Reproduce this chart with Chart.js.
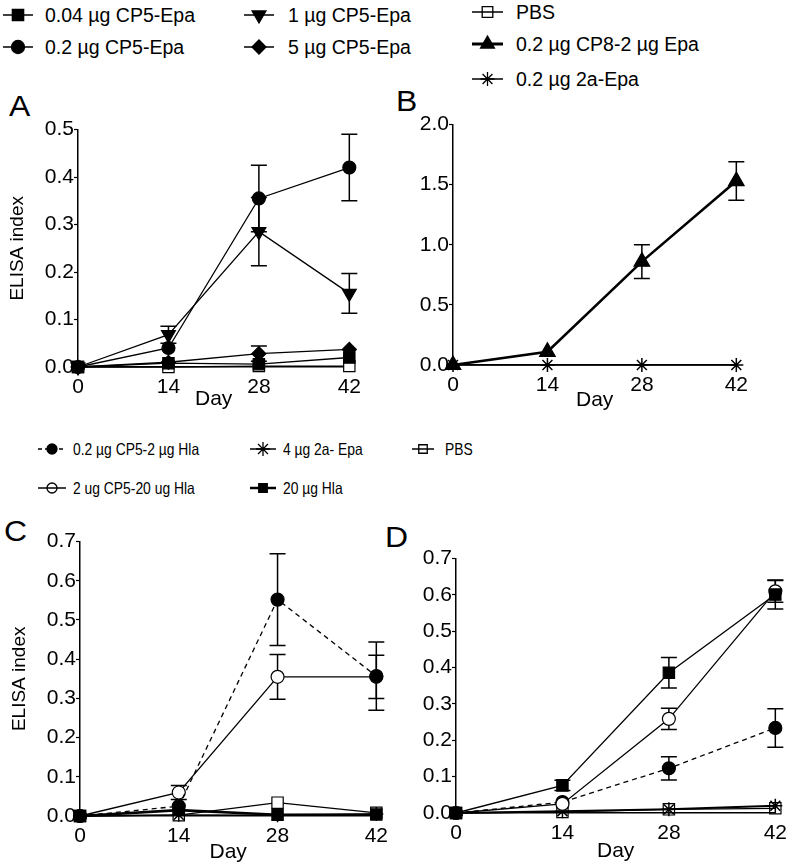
<!DOCTYPE html>
<html>
<head>
<meta charset="utf-8">
<script src="https://cdn.jsdelivr.net/npm/chart.js@4.4.1/dist/chart.umd.min.js"></script>
<style>
  body { margin: 0; background: #fff; }
  #page { position: relative; width: 796px; height: 866px; overflow: hidden; font-family: "Liberation Sans", Arial, sans-serif; color: #000; }
  .panel { position: absolute; }
  .letter { position: absolute; font-size: 29px; line-height: 29px; transform: scaleX(1.1); transform-origin: left top; }
  .item { position: absolute; height: 24px; }
  .item canvas { position: absolute; left: 0; top: 0; }
  .item span { position: absolute; top: 0; line-height: 24px; white-space: nowrap; }
  .top span { font-size: 19.5px; }
  .mid span { font-size: 16.5px; transform: scaleX(0.84); transform-origin: left center; }
</style>
</head>
<body>
<div id="page">
  <!-- legend for A and B -->
  <div class="item top" style="left:3px;top:3px"><canvas width="30" height="24" data-style="rect" data-r="8"></canvas><span style="left:42px">0.04 µg CP5-Epa</span></div>
  <div class="item top" style="left:3px;top:35px"><canvas width="30" height="24" data-style="circle" data-r="6.5"></canvas><span style="left:42px">0.2 µg CP5-Epa</span></div>
  <div class="item top" style="left:244px;top:3px"><canvas width="30" height="24" data-style="triangle" data-rot="180" data-r="8"></canvas><span style="left:44px">1 µg CP5-Epa</span></div>
  <div class="item top" style="left:244px;top:35px"><canvas width="30" height="24" data-style="rectRot" data-r="7"></canvas><span style="left:44px">5 µg CP5-Epa</span></div>
  <div class="item top" style="left:472px;top:0px"><canvas width="31" height="24" data-style="rect" data-r="7.5" data-open="1"></canvas><span style="left:44px">PBS</span></div>
  <div class="item top" style="left:472px;top:32px"><canvas width="31" height="24" data-style="triangle" data-r="8" data-lw="3"></canvas><span style="left:44px">0.2 µg CP8-2 µg Epa</span></div>
  <div class="item top" style="left:472px;top:67px"><canvas width="31" height="24" data-style="star" data-r="7" data-open="1"></canvas><span style="left:44px">0.2 µg 2a-Epa</span></div>

  <!-- legend for C and D -->
  <div class="item mid" style="left:38px;top:437px"><canvas width="28" height="24" data-style="circle" data-r="5" data-dash="1"></canvas><span style="left:35px">0.2 µg CP5-2 µg Hla</span></div>
  <div class="item mid" style="left:38px;top:476px"><canvas width="28" height="24" data-style="circle" data-r="5" data-open="1"></canvas><span style="left:35px">2 ug CP5-20 ug Hla</span></div>
  <div class="item mid" style="left:250px;top:437px"><canvas width="26" height="24" data-style="star" data-r="7" data-open="1"></canvas><span style="left:33px">4 µg 2a- Epa</span></div>
  <div class="item mid" style="left:250px;top:476px"><canvas width="26" height="24" data-style="rect" data-r="6" data-lw="2.5"></canvas><span style="left:33px">20 µg Hla</span></div>
  <div class="item mid" style="left:412px;top:437px"><canvas width="22" height="24" data-style="rect" data-r="6" data-open="1"></canvas><span style="left:33px">PBS</span></div>

  <div class="letter" style="left:9px;top:92px">A</div>
  <div class="letter" style="left:396px;top:87px">B</div>
  <div class="letter" style="left:4px;top:517px">C</div>
  <div class="letter" style="left:385px;top:523px">D</div>

  <div class="panel" style="left:8px;top:117px"><canvas id="chartA" width="361" height="293"></canvas></div>
  <div class="panel" style="left:393px;top:112px"><canvas id="chartB" width="363" height="299"></canvas></div>
  <div class="panel" style="left:10px;top:529px"><canvas id="chartC" width="386" height="334"></canvas></div>
  <div class="panel" style="left:396px;top:546px"><canvas id="chartD" width="399" height="316"></canvas></div>
</div>
<script>
const days = [0, 14, 28, 42];

// panel A (CP5-Epa doses)
const a004 = [0, 0.008, 0.006, 0.02];
const a02 = [0, 0.04, 0.355, 0.42];
const a02Err = [0, 0, 0.07, 0.07];
const a1 = [0, 0.068, 0.285, 0.155];
const a1Err = [0, 0.018, 0.072, 0.042];
const a5 = [0, 0.01, 0.028, 0.037];
const a5Err = [0, 0, 0.016, 0];
const aPbs = [0, 0, 0.002, 0.002];
const aTicks = [0, 0.1, 0.2, 0.3, 0.4, 0.5];

// panel B
const bCp8 = [0, 0.11, 0.86, 1.53];
const bCp8Err = [0, 0, 0.14, 0.16];
const b2a = [0, 0, 0, 0];
const bTicks = [0, 0.5, 1.0, 1.5, 2.0];

// panel C
const cDash = [0, 0.025, 0.552, 0.357];
const cDashErr = [0, 0, 0.117, 0.087];
const cOpen = [0, 0.06, 0.355, 0.355];
const cOpenErr = [0, 0.018, 0.057, 0.055];
const cStar = [0, 0.003, 0.002, 0.005];
const cHla = [0, 0.015, 0.003, 0.004];
const cPbs = [0, 0.002, 0.034, 0.008];

// panel D
const dDash = [0, 0.03, 0.123, 0.234];
const dDashErr = [0, 0, 0.032, 0.053];
const dOpen = [0, 0.025, 0.259, 0.61];
const dOpenErr = [0, 0, 0.029, 0.03];
const dHla = [0, 0.076, 0.386, 0.601];
const dHlaErr = [0, 0.014, 0.042, 0.04];
const dStar = [0, 0.005, 0.01, 0.02];
const dPbs = [0, 0.003, 0.01, 0.013];
const cdTicks = [0, 0.1, 0.2, 0.3, 0.4, 0.5, 0.6, 0.7];

Chart.defaults.font.family = '"Liberation Sans", Arial, sans-serif';
Chart.defaults.color = '#000';

// draws the error bars (mean +/- err) before the lines so markers sit on top
const errorBars = {
    id: 'errorBars',
    beforeDatasetsDraw(chart) {
        const ctx = chart.ctx;
        const xs = chart.scales.x, ys = chart.scales.y;
        chart.data.datasets.forEach(ds => {
            if (!ds.errors) return;
            ctx.save();
            ctx.strokeStyle = '#000';
            ctx.lineWidth = 1.5;
            ds.data.forEach((pt, i) => {
                const e = ds.errors[i];
                if (!e) return;
                const x = xs.getPixelForValue(pt.x);
                const y1 = ys.getPixelForValue(pt.y + e);
                const y2 = ys.getPixelForValue(pt.y - e);
                ctx.beginPath();
                ctx.moveTo(x, y1); ctx.lineTo(x, y2);
                ctx.moveTo(x - 8, y1); ctx.lineTo(x + 8, y1);
                ctx.moveTo(x - 8, y2); ctx.lineTo(x + 8, y2);
                ctx.stroke();
            });
            ctx.restore();
        });
    }
};

function series(label, values, style) {
    return Object.assign({
        label: label,
        data: days.map((d, i) => ({ x: d, y: values[i] })),
        borderColor: '#000',
        borderWidth: 1.3,
        pointBorderColor: '#000',
        pointBackgroundColor: '#000',
        pointBorderWidth: 1.2,
        pointRadius: 6.5,
        tension: 0,
        clip: false
    }, style);
}

function makePanel(id, datasets, yTicks, yTitle, xh) {
    new Chart(document.getElementById(id), {
        type: 'line',
        data: { datasets: datasets },
        options: {
            responsive: false,
            animation: false,
            devicePixelRatio: 1,
            layout: { padding: { top: 12, right: 12 } },
            plugins: { legend: { display: false }, tooltip: { enabled: false } },
            scales: {
                x: {
                    type: 'linear',
                    min: 0,
                    max: 42,
                    afterBuildTicks: s => { s.ticks = days.map(v => ({ value: v })); },
                    afterFit: s => { s.height = xh; },
                    grid: { drawOnChartArea: false, drawTicks: false },
                    border: { color: '#000', width: 1.5 },
                    ticks: { font: { size: 21 }, padding: 8, maxRotation: 0 },
                    title: { display: true, text: 'Day', font: { size: 21, lineHeight: 1 }, padding: 0 }
                },
                y: {
                    min: 0,
                    max: yTicks[yTicks.length - 1],
                    afterBuildTicks: s => { s.ticks = yTicks.map(v => ({ value: v })); },
                    afterFit: s => { s.width = yTitle ? 70 : 60; },
                    grid: { drawOnChartArea: false, tickLength: 4, color: '#000', tickWidth: 1.2 },
                    border: { color: '#000', width: 1.5 },
                    ticks: { font: { size: 21 }, padding: 0, callback: v => v.toFixed(1) },
                    title: { display: !!yTitle, text: yTitle, font: { size: 19, lineHeight: 1 }, padding: 0 }
                }
            }
        },
        plugins: [errorBars]
    });
}

makePanel('chartA', [
    series('0.2 µg CP5-Epa', a02, { pointStyle: 'circle', errors: a02Err }),
    series('1 µg CP5-Epa', a1, { pointStyle: 'triangle', pointRotation: 180, pointRadius: 8, errors: a1Err }),
    series('5 µg CP5-Epa', a5, { pointStyle: 'rectRot', pointRadius: 7, errors: a5Err }),
    series('0.04 µg CP5-Epa', a004, { pointStyle: 'rect', pointRadius: 8 }),
    series('PBS', aPbs, { pointStyle: 'rect', pointRadius: 8, pointBackgroundColor: '#fff' })
], aTicks, 'ELISA index', 43);

makePanel('chartB', [
    series('0.2 µg CP8-2 µg Epa', bCp8, { pointStyle: 'triangle', pointRadius: 9, borderWidth: 2.6, errors: bCp8Err }),
    series('0.2 µg 2a-Epa', b2a, { pointStyle: 'star', pointRadius: 7, pointBorderWidth: 1.5 })
], bTicks, '', 46);

makePanel('chartC', [
    series('0.2 µg CP5-2 µg Hla', cDash, { pointStyle: 'circle', borderDash: [5, 4], errors: cDashErr }),
    series('2 ug CP5-20 ug Hla', cOpen, { pointStyle: 'circle', pointBackgroundColor: '#fff', errors: cOpenErr }),
    series('4 µg 2a- Epa', cStar, { pointStyle: 'star', pointRadius: 7, pointBorderWidth: 1.5 }),
    series('20 µg Hla', cHla, { pointStyle: 'rect', pointRadius: 8, borderWidth: 2.6 }),
    series('PBS', cPbs, { pointStyle: 'rect', pointRadius: 8, pointBackgroundColor: '#fff' })
], cdTicks, 'ELISA index', 47);

makePanel('chartD', [
    series('20 µg Hla', dHla, { pointStyle: 'rect', pointRadius: 8, errors: dHlaErr }),
    series('2 ug CP5-20 ug Hla', dOpen, { pointStyle: 'circle', pointBackgroundColor: '#fff', errors: dOpenErr }),
    series('0.2 µg CP5-2 µg Hla', dDash, { pointStyle: 'circle', borderDash: [5, 4], errors: dDashErr }),
    series('4 µg 2a- Epa', dStar, { pointStyle: 'star', pointRadius: 7, pointBorderWidth: 1.5, borderWidth: 2 }),
    series('PBS', dPbs, { pointStyle: 'rect', pointRadius: 8, pointBackgroundColor: 'rgba(255,255,255,0)' })
], cdTicks, '', 49);

// legend symbols: a short line with the series marker on it
document.querySelectorAll('.item canvas').forEach(cv => {
    const ctx = cv.getContext('2d');
    const w = cv.width, h = cv.height / 2;
    const open = cv.dataset.open === '1';
    ctx.strokeStyle = '#000';
    ctx.fillStyle = open ? 'rgba(0,0,0,0)' : '#000';
    ctx.lineWidth = 1.3;
    Chart.helpers.drawPoint(ctx, {
        pointStyle: cv.dataset.style,
        rotation: Number(cv.dataset.rot || 0),
        radius: Number(cv.dataset.r),
        borderWidth: 1.3
    }, w / 2, h);
    ctx.beginPath();
    ctx.lineWidth = Number(cv.dataset.lw || 1.5);
    if (cv.dataset.dash) ctx.setLineDash([4, 3]);
    ctx.moveTo(0, h);
    ctx.lineTo(w, h);
    ctx.stroke();
});
</script>
</body>
</html>
